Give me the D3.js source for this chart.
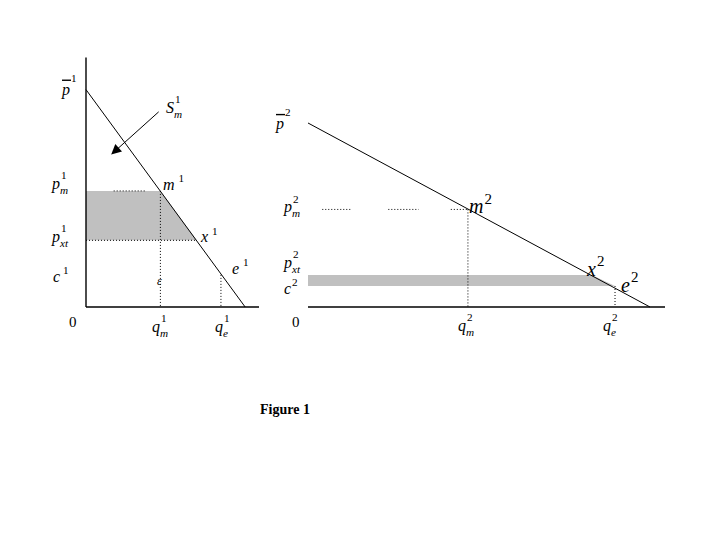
<!DOCTYPE html>
<html>
<head>
<meta charset="utf-8">
<script src="https://cdn.jsdelivr.net/npm/d3@7"></script>
<style>
  body { margin: 0; background: #fff; }
  text { font-family: "Liberation Serif", "DejaVu Serif", serif; }
</style>
</head>
<body>
<svg width="720" height="540"></svg>
<script>
// ---- data (arbitrary units 0..100) ----
// left market
const demand1 = [[0, 88], [92, 0]];
const m1 = [43, 47];
const x1 = [64, 27];
const e1 = [78, 13];
const pmDots1 = [[16, 34]];              // short dotted run at p_m^1
const arrow1 = [[42, 79], [15, 62]];     // S_m^1 pointer
// right market
const demand2 = [[0, 74.5], [95.8, 0]];
const m2 = [44.8, 39.5];
const x2 = [79.5, 13];
const e2 = [86, 8.5];
const pmDots2 = [[4, 12], [22.5, 31], [40, 44.8]];

const svg = d3.select("svg");
const black = "#000", grey = "#c0c0c0";

// scales
const xL = d3.scaleLinear().domain([0, 100]).range([86, 259]);
const yL = d3.scaleLinear().domain([0, 100]).range([307, 60]);
const xR = d3.scaleLinear().domain([0, 100]).range([308, 665]);
const yR = yL;

// arrow marker
svg.append("defs").append("marker")
  .attr("id", "head").attr("viewBox", "0 0 10 10")
  .attr("refX", 9).attr("refY", 5)
  .attr("markerWidth", 14).attr("markerHeight", 10)
  .attr("markerUnits", "userSpaceOnUse")
  .attr("orient", "auto")
  .append("path").attr("d", "M0,0 L10,5 L0,10 Z").attr("fill", black);

// label helper: base letter + stacked sup / sub
function label(x, y, base, sup, sub, size, opts = {}) {
  const g = svg.append("g");
  const t = g.append("text").attr("x", x).attr("y", y)
    .attr("font-size", size)
    .attr("font-style", opts.upright ? "normal" : "italic")
    .text(base);
  const w = t.node().getComputedTextLength();
  const small = size * 0.7;
  if (opts.bar) {
    g.append("line").attr("x1", x).attr("x2", x + w + 1)
      .attr("y1", y - size * 0.9).attr("y2", y - size * 0.9)
      .attr("stroke", black).attr("stroke-width", 1.4);
  }
  const supY = opts.bar ? 0.8 : (sub ? 0.62 : 0.48);
  if (sup) g.append("text").attr("x", x + w + (opts.gap || 1))
    .attr("y", y - size * supY)
    .attr("font-size", opts.supSize || small).text(sup);
  if (sub) g.append("text").attr("x", x + w).attr("y", y + size * 0.3)
    .attr("font-size", small).attr("font-style", "italic").text(sub);
  return g;
}

function dotted(x1, y1, x2, y2) {
  svg.append("line")
    .attr("x1", x1).attr("y1", y1).attr("x2", x2).attr("y2", y2)
    .attr("stroke", black).attr("stroke-width", 1)
    .attr("stroke-dasharray", "1,2");
}

// ---------------- left panel ----------------
// shaded area between p_m^1 and p_xt^1 under demand
svg.append("path")
  .attr("d", d3.line()([
    [xL(0), yL(m1[1])], [xL(m1[0]), yL(m1[1])],
    [xL(x1[0]), yL(x1[1])], [xL(0), yL(x1[1])]
  ]))
  .attr("fill", grey);

// axes
svg.append("line").attr("x1", xL(0)).attr("x2", xL(0))
  .attr("y1", yL(101)).attr("y2", yL(0)).attr("stroke", black).attr("stroke-width", 1.4);
svg.append("line").attr("x1", xL(0)).attr("x2", xL(100))
  .attr("y1", yL(0)).attr("y2", yL(0)).attr("stroke", black).attr("stroke-width", 1.4);

// demand line
svg.append("path")
  .attr("d", d3.line().x(d => xL(d[0])).y(d => yL(d[1]))(demand1))
  .attr("stroke", black).attr("fill", "none");

// dotted guides
pmDots1.forEach(d => dotted(xL(d[0]), yL(m1[1]), xL(d[1]), yL(m1[1])));
dotted(xL(0), yL(x1[1]), xL(x1[0]), yL(x1[1]));
dotted(xL(m1[0]), yL(m1[1]), xL(m1[0]), yL(0));
dotted(xL(e1[0]), yL(e1[1]), xL(e1[0]), yL(0));

// arrow
svg.append("line")
  .attr("x1", xL(arrow1[0][0])).attr("y1", yL(arrow1[0][1]))
  .attr("x2", xL(arrow1[1][0])).attr("y2", yL(arrow1[1][1]))
  .attr("stroke", black).attr("marker-end", "url(#head)");

// labels left
label(62, yL(demand1[0][1]) + 5, "p", "1", null, 16, { bar: true });
label(52, yL(m1[1]) - 2, "p", "1", "m", 16);
label(52, yL(x1[1]) + 2, "p", "1", "xt", 16);
label(53, yL(e1[1]) + 7, "c", "1", null, 16, { gap: 3 });
label(69, 327, "0", null, null, 15, { upright: true });
label(152, 332, "q", "1", "m", 16);
label(215, 332, "q", "1", "e", 16);
label(157, 285, "ε", null, null, 12);
label(163, yL(m1[1]) - 1, "m", "1", null, 16, { gap: 4 });
label(201, yL(x1[1]) + 2, "x", "1", null, 16, { gap: 4 });
label(232, yL(e1[1]) - 1, "e", "1", null, 16, { gap: 4 });
label(166, 113, "S", "1", "m", 16);

// ---------------- right panel ----------------
svg.append("path")
  .attr("d", d3.line()([
    [xR(0), yR(x2[1])], [xR(x2[0]), yR(x2[1])],
    [xR(e2[0]), yR(e2[1])], [xR(0), yR(e2[1])]
  ]))
  .attr("fill", grey);

svg.append("line").attr("x1", xR(0)).attr("x2", xR(100))
  .attr("y1", yR(0)).attr("y2", yR(0)).attr("stroke", black).attr("stroke-width", 1.4);

svg.append("path")
  .attr("d", d3.line().x(d => xR(d[0])).y(d => yR(d[1]))(demand2))
  .attr("stroke", black).attr("fill", "none");

pmDots2.forEach(d => dotted(xR(d[0]), yR(m2[1]), xR(d[1]), yR(m2[1])));
dotted(xR(m2[0]), yR(m2[1]), xR(m2[0]), yR(0));
dotted(xR(e2[0]), yR(e2[1]), xR(e2[0]), yR(0));

// labels right
label(276, yR(demand2[0][1]) + 6, "p", "2", null, 16, { bar: true });
label(284, yR(m2[1]) + 3, "p", "2", "m", 16);
label(284, yR(x2[1]) - 7, "p", "2", "xt", 16);
label(284, yR(e2[1]) + 8, "c", "2", null, 16);
label(292, 327, "0", null, null, 15, { upright: true });
label(458, 331, "q", "2", "m", 16);
label(603, 331, "q", "2", "e", 16);
label(469, yR(m2[1]) + 4, "m", "2", null, 20, { supSize: 15 });
label(587, yR(x2[1]) + 1, "x", "2", null, 20, { supSize: 15 });
label(621, yR(e2[1]) + 6, "e", "2", null, 20, { supSize: 15 });

// caption
svg.append("text").attr("x", 285).attr("y", 414)
  .attr("text-anchor", "middle").attr("font-size", 14)
  .attr("font-weight", "bold").text("Figure 1");
</script>
</body>
</html>
